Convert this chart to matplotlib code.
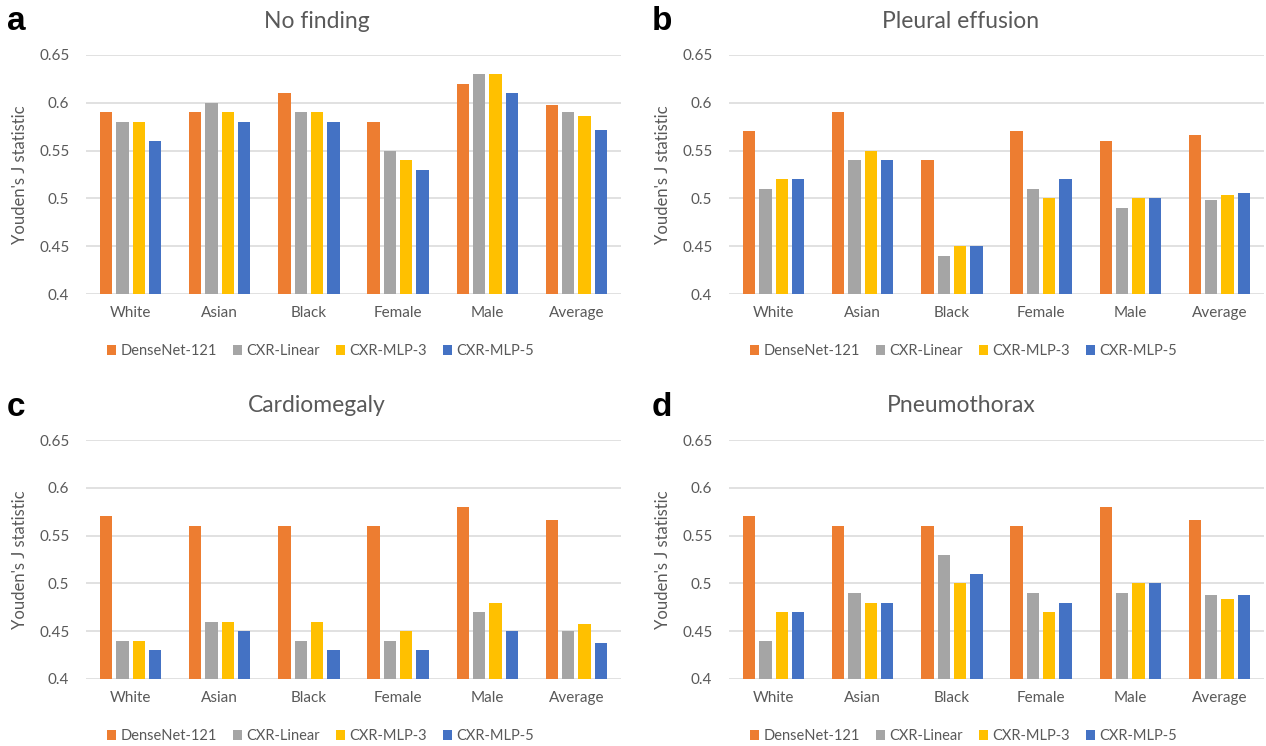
import numpy as np
import matplotlib
matplotlib.use("Agg")
import matplotlib.pyplot as plt

plt.rcParams['font.family'] = ['Lato', 'DejaVu Sans']

groups = ["White", "Asian", "Black", "Female", "Male", "Average"]
models = ["DenseNet-121", "CXR-Linear", "CXR-MLP-3", "CXR-MLP-5"]
colors = ["#ED7D31", "#A5A5A5", "#FFC000", "#4472C4"]

# Youden's J values, one list per model
no_finding = [
    [0.59, 0.59, 0.61, 0.58, 0.62, 0.598],
    [0.58, 0.60, 0.59, 0.55, 0.63, 0.590],
    [0.58, 0.59, 0.59, 0.54, 0.63, 0.586],
    [0.56, 0.58, 0.58, 0.53, 0.61, 0.572],
]
pleural_effusion = [
    [0.57, 0.59, 0.54, 0.57, 0.56, 0.566],
    [0.51, 0.54, 0.44, 0.51, 0.49, 0.498],
    [0.52, 0.55, 0.45, 0.50, 0.50, 0.504],
    [0.52, 0.54, 0.45, 0.52, 0.50, 0.506],
]
cardiomegaly = [
    [0.57, 0.56, 0.56, 0.56, 0.58, 0.566],
    [0.44, 0.46, 0.44, 0.44, 0.47, 0.450],
    [0.44, 0.46, 0.46, 0.45, 0.48, 0.458],
    [0.43, 0.45, 0.43, 0.43, 0.45, 0.438],
]
pneumothorax = [
    [0.57, 0.56, 0.56, 0.56, 0.58, 0.566],
    [0.44, 0.49, 0.53, 0.49, 0.49, 0.488],
    [0.47, 0.48, 0.50, 0.47, 0.50, 0.484],
    [0.47, 0.48, 0.51, 0.48, 0.50, 0.488],
]

yticks = [0.4, 0.45, 0.5, 0.55, 0.6, 0.65]
ytick_labels = ["0.4", "0.45", "0.5", "0.55", "0.6", "0.65"]

W, H = 1266, 746
fig = plt.figure(figsize=(W / 100, H / 100), dpi=100)

text_col = "#595959"
grid_col = "#D9D9D9"

# (letter, title, data, left px, top px, letter x px, title x px)
panels = [
    ("a", "No finding", no_finding, 86, 55, 7, 317),
    ("b", "Pleural effusion", pleural_effusion, 729, 55, 652, 961),
    ("c", "Cardiomegaly", cardiomegaly, 86, 440, 7, 317),
    ("d", "Pneumothorax", pneumothorax, 729, 440, 652, 961),
]
ax_w, ax_h = 535, 239
x = np.arange(len(groups))
bw = 0.138
step = 0.183

for letter, title, data, left, top, lx, tx in panels:
    ax = fig.add_axes([left / W, (H - top - ax_h) / H, ax_w / W, ax_h / H])
    for i, (name, vals) in enumerate(zip(models, data)):
        ax.bar(x + (i - 1.5) * step, vals, width=bw, color=colors[i],
               label=name, zorder=3)
    ax.set_xlim(-0.5, len(groups) - 0.5)
    ax.set_ylim(0.4, 0.65)
    ax.set_yticks(yticks)
    ax.set_yticklabels(ytick_labels)
    ax.set_xticks(x)
    ax.set_xticklabels(groups)
    ax.tick_params(axis='both', length=0, labelsize=11, colors=text_col)
    ax.tick_params(axis='y', pad=12)
    ax.tick_params(axis='x', pad=8.5)
    for s in ax.spines.values():
        s.set_visible(False)
    ax.yaxis.grid(True, color=grid_col, lw=1.1, zorder=0)
    ax.set_ylabel("Youden's J statistic", fontsize=12, color=text_col)
    ax.yaxis.set_label_coords(-58 / ax_w, 0.5)
    ax.legend(loc='center', bbox_to_anchor=(0.438, -57 / ax_h), ncol=4,
              frameon=False, fontsize=10.5, handlelength=0.62,
              handleheight=0.62, handletextpad=0.3, columnspacing=1.1,
              labelcolor=text_col)
    fig.text(tx / W, 1 - (top - 34) / H, title, ha='center', va='center',
             fontsize=16.5, color=text_col)
    fig.text(lx / W, 1 - (top - 33) / H, letter, ha='left', va='center',
             fontsize=24, fontweight='bold', family='Liberation Sans',
             color='black')

fig.savefig("out.png", dpi=100)
